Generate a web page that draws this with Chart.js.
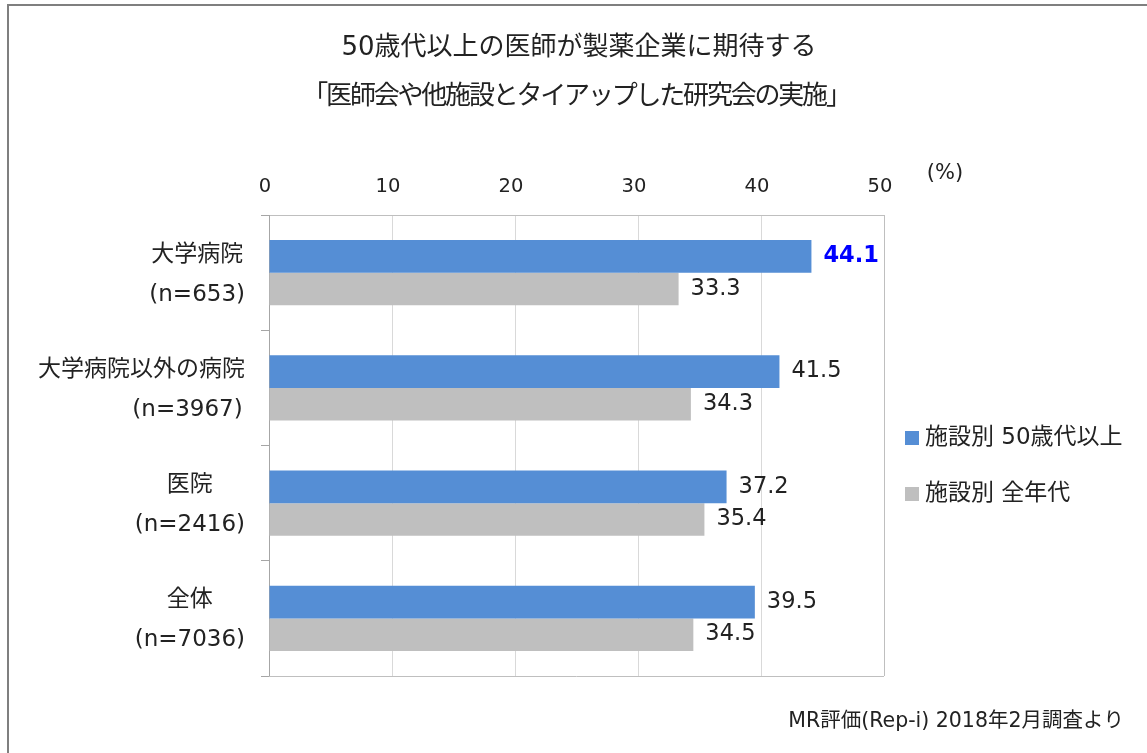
<!DOCTYPE html>
<html lang="ja">
<head>
  <meta charset="UTF-8" />
  <title>50歳代以上の医師が製薬企業に期待する</title>
  <style>
    body { margin: 0; background: #ffffff; overflow: hidden; }
    canvas { display: block; }
  </style>
</head>
<body>
  <canvas id="chart" width="1147" height="753"></canvas>

  <script src="https://cdn.jsdelivr.net/npm/chart.js"></script>
  <script>
    // data
    const categories = [
      ['大学病院', '(n=653)'],
      ['大学病院以外の病院', '(n=3967)'],
      ['医院', '(n=2416)'],
      ['全体', '(n=7036)']
    ];
    const seriesNames = ['施設別 50歳代以上', '施設別 全年代'];
    const age50Plus = [44.1, 41.5, 37.2, 39.5];
    const allAges = [33.3, 34.3, 35.4, 34.5];
    const xMin = 0, xMax = 50, xStep = 10;

    const titleLines = ['50歳代以上の医師が製薬企業に期待する', '「医師会や他施設とタイアップした研究会の実施」'];
    const unitLabel = '(%)';
    const sourceNote = 'MR評価(Rep-i) 2018年2月調査より';

    const BLUE = '#558ed5';
    const GRAY = '#bfbfbf';
    const TEXT = '#222222';
    const FONT = "'DejaVu Sans', 'Noto Sans CJK JP', sans-serif";

    Chart.defaults.font.family = FONT;
    Chart.defaults.color = TEXT;

    const overlay = {
      id: 'overlay',
      beforeDraw(chart) {
        const ctx = chart.ctx;
        ctx.save();
        ctx.fillStyle = '#ffffff';
        ctx.fillRect(0, 0, chart.width, chart.height);
        ctx.restore();
      },
      afterDraw(chart) {
        const ctx = chart.ctx;
        const area = chart.chartArea;
        const yScale = chart.scales.y;
        ctx.save();

        // outer frame
        ctx.fillStyle = '#7f7f7f';
        ctx.fillRect(7, 4, chart.width, 2);
        ctx.fillRect(7, 4, 2, chart.height);

        // bottom border of plot
        ctx.strokeStyle = GRAY;
        ctx.lineWidth = 1;
        ctx.beginPath();
        ctx.moveTo(area.left, area.bottom + 0.5);
        ctx.lineTo(area.right, area.bottom + 0.5);
        ctx.stroke();

        // title
        ctx.fillStyle = TEXT;
        ctx.font = '26px ' + FONT;
        ctx.textAlign = 'center';
        ctx.textBaseline = 'middle';
        ctx.fillText(titleLines[0], 579, 48);
        if ('letterSpacing' in ctx) ctx.letterSpacing = '-2.2px';
        ctx.fillText(titleLines[1], 576, 97);
        if ('letterSpacing' in ctx) ctx.letterSpacing = '0px';

        // unit
        ctx.font = '21px ' + FONT;
        ctx.fillText(unitLabel, 945, 174);

        // category labels
        ctx.font = '23px ' + FONT;
        const rightEdge = 245, wrapW = 115;
        categories.forEach((lines, i) => {
          const cy = yScale.getPixelForValue(i);
          const widths = lines.map(l => ctx.measureText(l).width);
          const blockW = Math.min(wrapW, Math.max(...widths));
          const cx = rightEdge - blockW / 2;
          lines.forEach((l, k) => {
            const y = cy + (k === 0 ? -18 : 22);
            if (widths[k] > blockW) {
              ctx.textAlign = 'right';
              ctx.fillText(l, rightEdge, y);
            } else {
              ctx.textAlign = 'center';
              ctx.fillText(l, cx, y);
            }
          });
        });

        // value labels
        chart.data.datasets.forEach((ds, di) => {
          const meta = chart.getDatasetMeta(di);
          meta.data.forEach((bar, j) => {
            const v = ds.data[j];
            const highlight = di === 0 && j === 0;
            ctx.font = (highlight ? 'bold ' : '') + '22.5px ' + FONT;
            ctx.fillStyle = highlight ? '#0000ff' : TEXT;
            ctx.textAlign = 'left';
            ctx.textBaseline = 'middle';
            ctx.fillText(v.toFixed(1), bar.x + 12, bar.y);
          });
        });

        // legend
        const legendY = [438, 494];
        chart.data.datasets.forEach((ds, di) => {
          ctx.fillStyle = ds.backgroundColor;
          ctx.fillRect(905, legendY[di] - 7, 14, 14);
          ctx.fillStyle = TEXT;
          ctx.font = '23px ' + FONT;
          ctx.textAlign = 'left';
          ctx.fillText(ds.label, 925, legendY[di]);
        });

        // source note
        ctx.font = '20.5px ' + FONT;
        ctx.textAlign = 'right';
        ctx.fillText(sourceNote, 1124, 722);

        ctx.restore();
      }
    };

    new Chart(document.getElementById('chart'), {
      type: 'bar',
      data: {
        labels: categories,
        datasets: [
          { label: seriesNames[0], data: age50Plus, backgroundColor: BLUE },
          { label: seriesNames[1], data: allAges, backgroundColor: GRAY }
        ]
      },
      options: {
        indexAxis: 'y',
        responsive: false,
        animation: false,
        devicePixelRatio: 1,
        layout: { padding: { top: 0, left: 0, right: 263, bottom: 77 } },
        datasets: { bar: { categoryPercentage: 0.565, barPercentage: 1.0 } },
        plugins: {
          legend: { display: false },
          title: { display: false },
          tooltip: { enabled: false }
        },
        scales: {
          x: {
            position: 'top',
            min: xMin,
            max: xMax,
            ticks: {
              stepSize: xStep,
              padding: 16,
              labelOffset: -4,
              font: { size: 19.5 },
              color: TEXT
            },
            grid: {
              drawTicks: false,
              color: ctx => ctx.index === 5 ? GRAY : '#d9d9d9'
            },
            border: { color: GRAY },
            afterFit(scale) { scale.height = 215; }
          },
          y: {
            ticks: { display: false },
            grid: {
              offset: true,
              drawOnChartArea: false,
              drawTicks: true,
              tickLength: 8,
              color: '#a6a6a6'
            },
            border: { color: '#a6a6a6' },
            afterFit(scale) { scale.width = 269; }
          }
        }
      },
      plugins: [overlay]
    });
  </script>
</body>
</html>
